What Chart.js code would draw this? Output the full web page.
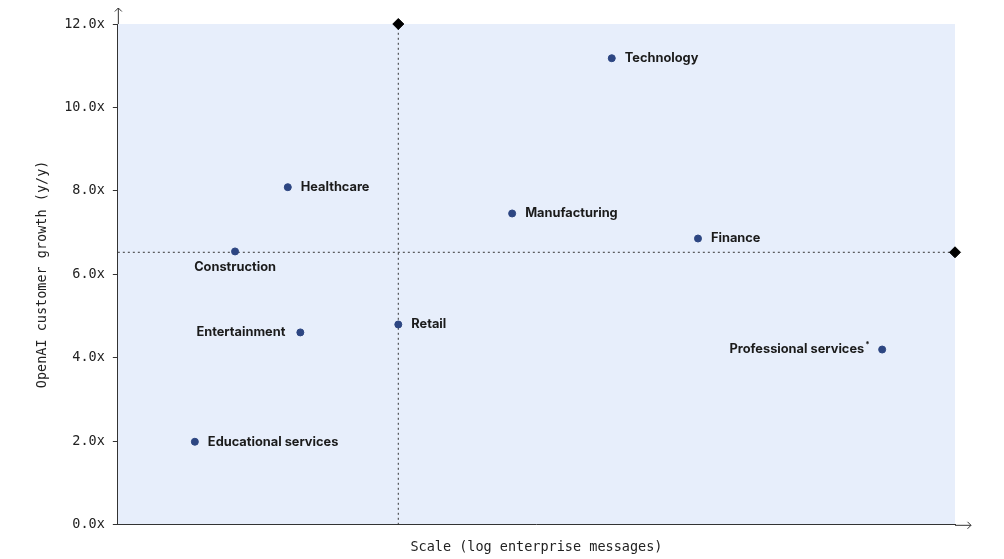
<!DOCTYPE html>
<html>
<head>
<meta charset="utf-8">
<script src="https://cdn.jsdelivr.net/npm/chart.js@4/dist/chart.umd.min.js"></script>
<style>
  html, body { margin: 0; padding: 0; background: #fff; }
  #wrap { width: 1004px; height: 559px; }
</style>
</head>
<body>
<div id="wrap"><canvas id="chart"></canvas></div>
<script>
var industries = ["Technology", "Healthcare", "Manufacturing", "Finance", "Construction",
  "Retail", "Entertainment", "Professional services", "Educational services"];
// x: relative position on the log-scale axis (no ticks shown), y: growth multiple
var scaleValues = [5.90, 2.03, 4.71, 6.93, 1.40, 3.35, 2.18, 9.13, 0.92];
var growthValues = [11.18, 8.09, 7.46, 6.86, 6.55, 4.80, 4.61, 4.20, 1.99];
var medianScale = 3.35;
var medianGrowth = 6.53;
var yTicks = [0, 2, 4, 6, 8, 10, 12];

var labelSide = { "Construction": "below", "Entertainment": "left", "Professional services": "left" };

var mono = "'DejaVu Sans Mono', monospace";
var ink = "#222";
var labelFont = "700 12.8px Inter, 'Noto Sans', sans-serif";

var points = industries.map(function (n, i) {
  return { x: scaleValues[i], y: growthValues[i], name: n };
});

var bgPlugin = {
  id: "bg",
  beforeDraw: function (chart) {
    var a = chart.chartArea, c = chart.ctx;
    c.save();
    c.fillStyle = "#e7eefb";
    c.fillRect(a.left, a.top, a.right - a.left, a.bottom - a.top);
    c.restore();
  }
};

var axisPlugin = {
  id: "arrows",
  afterDraw: function (chart) {
    var a = chart.chartArea, c = chart.ctx;
    c.save();
    c.strokeStyle = "#333";
    c.lineWidth = 1;
    c.beginPath();
    // y axis extension + arrow
    c.moveTo(a.left + 0.5, a.top);
    c.lineTo(a.left + 0.5, a.top - 16);
    c.moveTo(a.left - 3, a.top - 12.5);
    c.lineTo(a.left + 0.5, a.top - 16);
    c.lineTo(a.left + 4, a.top - 12.5);
    // x axis extension + arrow
    c.moveTo(a.right, a.bottom + 0.5);
    c.lineTo(a.right + 16, a.bottom + 0.5);
    c.moveTo(a.right + 12.5, a.bottom - 3);
    c.lineTo(a.right + 16, a.bottom + 0.5);
    c.lineTo(a.right + 12.5, a.bottom + 4);
    c.stroke();
    c.restore();
  }
};

var labelPlugin = {
  id: "labels",
  afterDatasetsDraw: function (chart) {
    var c = chart.ctx;
    var meta = chart.getDatasetMeta(2);
    c.save();
    c.font = labelFont;
    c.fillStyle = "#1b1b1b";
    c.textBaseline = "middle";
    meta.data.forEach(function (el, i) {
      var name = industries[i];
      var side = labelSide[name] || "right";
      if (side === "right") {
        c.textAlign = "left";
        c.fillText(name, el.x + 13, el.y);
      } else if (side === "below") {
        c.textAlign = "center";
        c.fillText(name, el.x, el.y + 16);
      } else {
        c.textAlign = "right";
        var off = name === "Professional services" ? 18 : 15;
        c.fillText(name, el.x - off, el.y);
        if (name === "Professional services") {
          c.font = "700 8px Inter, sans-serif";
          c.textAlign = "left";
          c.fillText("*", el.x - off + 1, el.y - 5);
          c.font = labelFont;
        }
      }
    });
    c.restore();
  }
};

new Chart(document.getElementById("chart"), {
  type: "scatter",
  data: {
    datasets: [
      {
        type: "line",
        data: [{ x: medianScale, y: 0 }, { x: medianScale, y: 12 }],
        borderColor: "#333",
        borderWidth: 1,
        borderDash: [2, 3],
        pointRadius: [0, 5.5],
        pointStyle: "rectRot",
        pointBackgroundColor: "#000",
        pointBorderColor: "#000",
        clip: false,
        order: 2
      },
      {
        type: "line",
        data: [{ x: 0, y: medianGrowth }, { x: 10, y: medianGrowth }],
        borderColor: "#333",
        borderWidth: 1,
        borderDash: [2, 3],
        pointRadius: [0, 5.5],
        pointStyle: "rectRot",
        pointBackgroundColor: "#000",
        pointBorderColor: "#000",
        clip: false,
        order: 2
      },
      {
        data: points,
        pointRadius: 3.5,
        pointBackgroundColor: "#2d4682",
        pointBorderColor: "#2d4682",
        order: 1
      }
    ]
  },
  options: {
    responsive: true,
    maintainAspectRatio: false,
    animation: false,
    layout: { padding: { top: 24, right: 49, left: 34, bottom: 3 } },
    plugins: { legend: { display: false }, tooltip: { enabled: false } },
    scales: {
      x: {
        type: "linear",
        min: 0,
        max: 10,
        grid: { display: false },
        ticks: { display: false },
        border: { display: true, color: "#333", width: 1 },
        title: {
          display: true,
          text: "Scale (log enterprise messages)",
          font: { family: mono, size: 13.5 },
          color: ink,
          padding: { top: 7, bottom: 0 }
        }
      },
      y: {
        min: 0,
        max: 12,
        afterBuildTicks: function (axis) {
          axis.ticks = yTicks.map(function (v) { return { value: v }; });
        },
        grid: { drawOnChartArea: false, drawTicks: true, tickLength: 5, color: "#333" },
        border: { display: true, color: "#333", width: 1 },
        ticks: {
          callback: function (v) { return v.toFixed(1) + "x"; },
          font: { family: mono, size: 13.5 },
          color: ink,
          padding: 8
        },
        title: {
          display: true,
          text: "OpenAI customer growth (y/y)",
          font: { family: mono, size: 13.5 },
          color: ink,
          padding: { top: 0, bottom: 6 }
        }
      }
    }
  },
  plugins: [bgPlugin, axisPlugin, labelPlugin]
});
</script>
</body>
</html>
